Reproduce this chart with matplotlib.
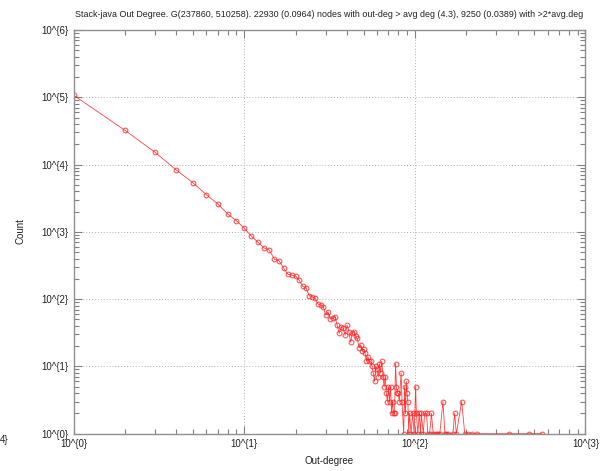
import matplotlib
matplotlib.use("Agg")
import matplotlib.pyplot as plt
from matplotlib.ticker import FixedLocator, FixedFormatter, LogLocator, NullFormatter

plt.rcParams["font.family"] = ["Liberation Sans", "DejaVu Sans"]

# out-degree distribution (degree, number of nodes)
degree = [1, 2, 3, 4, 5, 6, 7, 8, 9, 10, 11, 12, 13, 14, 15, 16, 17, 18, 19, 20,
          21, 22, 23, 24, 25, 26, 27, 28, 29, 30, 31, 32, 33, 34, 35, 36, 37, 38, 39, 40,
          41, 42, 43, 44, 45, 46, 47, 48, 49, 50, 51, 52, 53, 54, 55, 56, 57, 58, 59, 60,
          61, 62, 63, 64, 65, 66, 67, 68, 69, 70, 71, 72, 73, 74, 75, 76, 77, 78, 79, 80,
          81, 83, 84, 86, 87, 88, 89, 90, 91, 92, 93, 95, 97, 99, 101, 102, 104, 106, 108, 109,
          112, 114, 117, 119, 122, 125, 128, 131, 134, 137, 140, 146, 150, 153, 157, 167, 171, 175, 188, 196,
          205, 215, 230, 355, 469, 556]
count = [107000, 32200, 15200, 8280, 5370, 3560, 2590, 1840, 1460, 1130, 866, 705, 580, 537, 394, 372, 290, 234, 228, 220,
         190, 155, 148, 113, 109, 103, 85, 82, 77, 58, 65, 51, 52, 55, 41, 31, 39, 37, 29, 41,
         33, 23, 31, 33, 28, 26, 19, 21, 17, 18, 16, 12, 14, 12, 12, 10, 8, 6, 10, 9,
         7, 11, 8, 12, 7, 5, 7, 4, 3, 5, 3, 5, 2, 3, 2, 2, 11, 5, 4, 4,
         3, 8, 3, 1, 5, 2, 6, 4, 3, 1, 2, 1, 2, 1, 5, 2, 1, 2, 1, 2,
         1, 2, 2, 1, 1, 2, 1, 1, 1, 1, 1, 3, 1, 1, 1, 1, 2, 1, 3, 1,
         1, 1, 1, 1, 1, 1]

x_ticks = [1, 10, 100, 1000]
x_labels = ["10^{0}", "10^{1}", "10^{2}", "10^{3}"]
y_ticks = [1, 10, 100, 1000, 10000, 100000, 1000000]
y_labels = ["10^{0}", "10^{1}", "10^{2}", "10^{3}", "10^{4}", "10^{5}", "10^{6}"]

title = ("Stack-java Out Degree. G(237860, 510258). 22930 (0.0964) nodes with out-deg > avg deg (4.3), "
         "9250 (0.0389) with >2*avg.deg")

fig = plt.figure(figsize=(6.09, 4.71), dpi=100)
ax = fig.add_axes([0.121, 0.0792, 0.8404, 0.8571])

ax.plot(degree, count, color="#ff0000", lw=0.6, alpha=0.75,
        marker="o", ms=3.4, mfc="none", mec="#ff2020", mew=0.8)

ax.set_xscale("log")
ax.set_yscale("log")
ax.set_xlim(1, 1000)
ax.set_ylim(1, 1000000)

ax.xaxis.set_major_locator(FixedLocator(x_ticks))
ax.xaxis.set_major_formatter(FixedFormatter(x_labels))
ax.yaxis.set_major_locator(FixedLocator(y_ticks))
ax.yaxis.set_major_formatter(FixedFormatter(y_labels))
ax.xaxis.set_minor_locator(LogLocator(base=10, subs=range(2, 10)))
ax.yaxis.set_minor_locator(LogLocator(base=10, subs=range(2, 10)))
ax.xaxis.set_minor_formatter(NullFormatter())
ax.yaxis.set_minor_formatter(NullFormatter())

ax.tick_params(which="both", direction="in", top=True, right=True,
               color="#808080", labelsize=7, labelcolor="#202020")
ax.tick_params(which="major", length=6, width=0.8, pad=4)
ax.tick_params(which="minor", length=3.5, width=0.8)

for s in ax.spines.values():
    s.set_color("#909090")
    s.set_linewidth(1.0)

ax.grid(True, which="major", linestyle=(0, (1, 2)), color="#b0b0b0", lw=0.7)

fig.text(0.540, 0.970, title, ha="center", va="center", fontsize=6.4, color="#202020")
fig.text(0.540, 0.021, "Out-degree", ha="center", va="center", fontsize=7, color="#202020")
fig.text(0.033, 0.51, "Count", ha="center", va="center", rotation=90, fontsize=7, color="#202020")
fig.text(0.0, 0.066, "4}", ha="left", va="center", fontsize=7, color="#202020")

fig.savefig("out.png", dpi=100)
